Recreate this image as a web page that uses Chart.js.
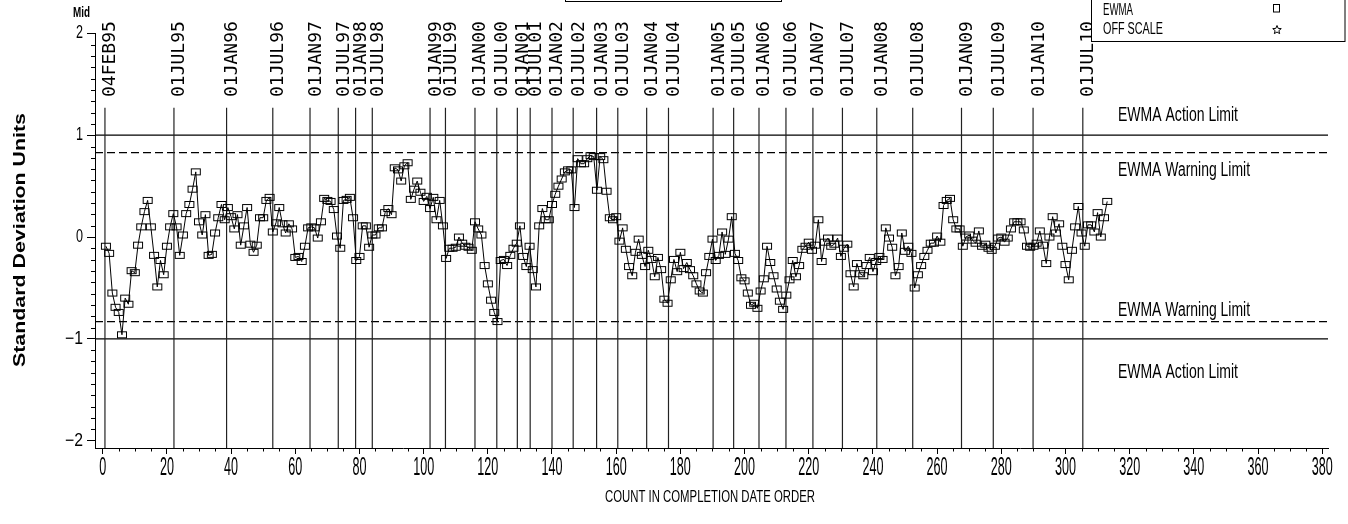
<!DOCTYPE html>
<html>
<head>
    <title>EWMA chart</title>
    <style>
        body { margin: 0; background: #fff; }
    </style>
</head>
<body>
    <canvas id="ewma" width="1348" height="524"></canvas>

    <script src="https://cdn.jsdelivr.net/npm/chart.js@4.4.1/dist/chart.umd.min.js"></script>
    <script>
        // EWMA values in completion order (count 1 .. 313)
        const ewmaValues = [
            -0.09,-0.16,-0.55,-0.69,-0.74,-0.96,-0.60,-0.66,-0.33,-0.35,
            -0.08,0.10,0.25,0.36,0.10,-0.18,-0.49,-0.23,-0.37,-0.09,
            0.10,0.23,0.10,-0.18,0.02,0.23,0.32,0.47,0.64,0.15,
            0.02,0.22,-0.18,-0.17,0.04,0.19,0.32,0.17,0.29,0.20,
            0.08,0.22,-0.08,0.11,0.29,-0.07,-0.15,-0.08,0.19,0.19,
            0.36,0.39,0.05,0.14,0.29,0.13,0.04,0.13,0.08,-0.20,
            -0.19,-0.24,-0.09,0.09,0.10,0.09,-0.01,0.15,0.38,0.36,
            0.35,0.27,0.01,-0.11,0.36,0.37,0.39,0.19,-0.23,-0.19,
            0.11,0.11,-0.10,0.02,0.02,0.09,0.09,0.24,0.28,0.22,
            0.68,0.66,0.55,0.70,0.73,0.37,0.47,0.55,0.44,0.35,
            0.40,0.28,0.39,0.17,0.36,0.11,-0.21,-0.11,-0.11,-0.10,
            0.00,-0.06,-0.09,-0.10,-0.13,0.15,0.08,0.02,-0.28,-0.46,
            -0.62,-0.74,-0.83,-0.23,-0.22,-0.28,-0.18,-0.11,-0.06,0.11,
            -0.19,-0.29,-0.09,-0.32,-0.49,0.11,0.28,0.17,0.17,0.32,
            0.42,0.50,0.57,0.64,0.66,0.66,0.29,0.77,0.72,0.72,
            0.77,0.80,0.79,0.46,0.79,0.76,0.45,0.19,0.17,0.20,
            -0.04,0.09,-0.12,-0.29,-0.38,-0.15,-0.02,-0.18,-0.29,-0.13,
            -0.22,-0.39,-0.20,-0.32,-0.61,-0.65,-0.42,-0.22,-0.34,-0.15,
            -0.31,-0.25,-0.32,-0.38,-0.46,-0.53,-0.55,-0.35,-0.19,-0.02,
            -0.23,-0.18,0.05,-0.17,-0.02,0.20,-0.16,-0.23,-0.40,-0.43,
            -0.55,-0.67,-0.65,-0.70,-0.53,-0.41,-0.09,-0.25,-0.38,-0.51,
            -0.63,-0.71,-0.57,-0.42,-0.23,-0.39,-0.28,-0.12,-0.09,-0.05,
            -0.13,-0.08,0.17,-0.24,-0.05,-0.01,-0.09,-0.07,-0.01,-0.19,
            -0.11,-0.07,-0.36,-0.49,-0.26,-0.36,-0.38,-0.28,-0.20,-0.34,
            -0.24,-0.19,-0.22,0.09,-0.01,-0.10,-0.38,-0.29,0.04,-0.14,
            -0.09,-0.16,-0.50,-0.37,-0.28,-0.19,-0.13,-0.06,-0.06,0.01,
            -0.05,0.31,0.36,0.38,0.17,0.08,0.08,-0.09,0.00,0.02,
            -0.03,-0.06,0.06,-0.09,-0.07,-0.11,-0.13,-0.09,-0.01,0.00,
            -0.05,-0.01,0.08,0.15,0.15,0.15,0.07,-0.09,-0.10,-0.09,
            -0.06,0.06,-0.08,-0.26,0.00,0.20,0.04,0.13,-0.09,-0.27,
            -0.42,-0.13,0.10,0.30,0.04,-0.09,0.12,0.12,0.05,0.24,
            0.00,0.19,0.35
        ];
        const counts = ewmaValues.map((v, i) => i + 1);

        const actionLimit = 1.0;
        const warningLimit = 0.83;

        // date reference lines (position in count units)
        const dateCounts = [0.7, 22.2, 38.6, 53.0, 64.6, 73.4, 78.8, 84.0, 102.0, 106.8,
            116.0, 122.8, 129.2, 133.2, 140.0, 146.6, 153.9, 160.5, 169.5, 176.3,
            190.2, 196.6, 204.5, 212.9, 221.3, 230.5, 241.2, 252.4, 267.6, 277.5,
            289.9, 305.4];
        const dateLabels = ['04FEB95','01JUL95','01JAN96','01JUL96','01JAN97','01JUL97','01JAN98','01JUL98','01JAN99','01JUL99',
            '01JAN00','01JUL00','01JAN01','01JUL01','01JAN02','01JUL02','01JAN03','01JUL03','01JAN04','01JUL04',
            '01JAN05','01JUL05','01JAN06','01JUL06','01JAN07','01JUL07','01JAN08','01JUL08','01JAN09','01JUL09',
            '01JAN10','01JUL10'];

        const xTickValues = [0,20,40,60,80,100,120,140,160,180,200,220,240,260,280,300,320,340,360,380];
        const yTickValues = [-2,-1,0,1,2];

        const X_MIN = -2.4, X_MAX = 381.8;
        const Y_MIN = -2.072, Y_MAX = 2.0;
        const DATE_LINE_TOP = 1.27;

        const FONT = '"Liberation Sans", Arial, sans-serif';

        function putText(ctx, str, x, y, o) {
            ctx.save();
            ctx.translate(x, y);
            if (o.rotate) ctx.rotate(o.rotate);
            ctx.font = o.font;
            ctx.fillStyle = '#000';
            ctx.textBaseline = o.baseline || 'middle';
            ctx.textAlign = 'left';
            const w = ctx.measureText(str).width;
            const sx = o.width ? o.width / w : 1;
            let dx = 0;
            if (o.align === 'center') dx = -w / 2;
            if (o.align === 'right') dx = -w;
            ctx.scale(sx, 1);
            ctx.fillText(str, dx, 0);
            ctx.restore();
        }

        // square marker, slightly wider than tall like the original symbol
        const marker = document.createElement('canvas');
        marker.width = 12;
        marker.height = 9;
        (function () {
            const m = marker.getContext('2d');
            m.strokeStyle = '#000';
            m.lineWidth = 1;
            m.strokeRect(1.5, 1.5, 9, 6);
        })();

        const dateLineData = [];
        dateCounts.forEach(c => {
            dateLineData.push({x: c, y: DATE_LINE_TOP}, {x: c, y: Y_MIN}, {x: c, y: null});
        });

        function hLine(v) {
            return [{x: X_MIN, y: v}, {x: X_MAX, y: v}];
        }

        const decorations = {
            id: 'decorations',
            afterDraw(chart) {
                const ctx = chart.ctx;
                const xs = chart.scales.x, ys = chart.scales.y;
                const area = chart.chartArea;

                // minor ticks
                ctx.save();
                ctx.strokeStyle = '#000';
                ctx.lineWidth = 1;
                ctx.beginPath();
                for (let v = 5; v < 385; v += 5) {
                    if (v % 20 === 0) continue;
                    const px = Math.round(xs.getPixelForValue(v)) + 0.5;
                    ctx.moveTo(px, area.bottom);
                    ctx.lineTo(px, area.bottom + 3.5);
                }
                for (let k = -2; k < 2; k++) {
                    for (let j = 1; j <= 8; j++) {
                        const py = Math.round(ys.getPixelForValue(k + j / 9)) + 0.5;
                        ctx.moveTo(area.left - 4, py);
                        ctx.lineTo(area.left, py);
                    }
                }
                ctx.stroke();
                ctx.restore();

                // tick labels
                xTickValues.forEach(v => {
                    const s = String(v);
                    putText(ctx, s, xs.getPixelForValue(v), 468, {
                        font: '25px ' + FONT, align: 'center', width: 7 * s.length
                    });
                });
                yTickValues.forEach(v => {
                    const s = v < 0 ? '\u2212' + Math.abs(v) : String(v);
                    putText(ctx, s, 83, ys.getPixelForValue(v), {
                        font: '18px ' + FONT, align: 'right', width: v < 0 ? 18 : 7
                    });
                });

                // date labels (rotated)
                ctx.save();
                ctx.font = '18px "DejaVu Sans Mono", monospace';
                ctx.fillStyle = '#000';
                ctx.textBaseline = 'alphabetic';
                dateCounts.forEach((c, i) => {
                    ctx.save();
                    ctx.translate(xs.getPixelForValue(c) + 10.5, 97);
                    ctx.rotate(-Math.PI / 2);
                    ctx.fillText(dateLabels[i], 0, 0);
                    ctx.restore();
                });
                ctx.restore();

                // limit labels
                const lx = 1118;
                putText(ctx, 'EWMA Action Limit', lx, 115, {font: '20px ' + FONT, width: 120});
                putText(ctx, 'EWMA Warning Limit', lx, 170, {font: '20px ' + FONT, width: 132});
                putText(ctx, 'EWMA Warning Limit', lx, 310, {font: '20px ' + FONT, width: 132});
                putText(ctx, 'EWMA Action Limit', lx, 372, {font: '20px ' + FONT, width: 120});

                // axis titles
                putText(ctx, 'Standard Deviation Units', 25, 240, {
                    font: 'bold 17px ' + FONT, rotate: -Math.PI / 2, align: 'center',
                    baseline: 'alphabetic', width: 254
                });
                putText(ctx, 'COUNT IN COMPLETION DATE ORDER', 710, 498, {
                    font: '16px ' + FONT, align: 'center', width: 210
                });
                putText(ctx, 'Mid', 73, 13, {font: 'bold 14px ' + FONT, width: 17});

                // small box at the top centre
                ctx.save();
                ctx.strokeStyle = '#000';
                ctx.lineWidth = 1;
                ctx.strokeRect(565.5, -10, 216, 11.5);
                ctx.restore();

                // legend box
                ctx.save();
                ctx.fillStyle = '#fff';
                ctx.fillRect(1091, -5, 254, 46.5);
                ctx.strokeStyle = '#000';
                ctx.lineWidth = 1;
                ctx.strokeRect(1091.5, -5, 253.5, 46.5);
                ctx.strokeRect(1273.5, 4.5, 6, 7.5);
                // star symbol
                ctx.beginPath();
                const cx = 1277, cy = 30;
                for (let k = 0; k < 10; k++) {
                    const r = k % 2 === 0 ? 4.5 : 2;
                    const a = -Math.PI / 2 + k * Math.PI / 5;
                    const px = cx + r * Math.cos(a), py = cy + r * Math.sin(a);
                    if (k === 0) ctx.moveTo(px, py); else ctx.lineTo(px, py);
                }
                ctx.closePath();
                ctx.stroke();
                ctx.restore();
                putText(ctx, 'EWMA', 1103, 11, {font: '16px ' + FONT, width: 30});
                putText(ctx, 'OFF SCALE', 1103, 30, {font: '16px ' + FONT, width: 60});
            }
        };

        const context = document.getElementById('ewma').getContext('2d');

        const ewmaChart = new Chart(context, {
            type: 'line',
            data: {
                datasets: [
                    {
                        label: 'EWMA',
                        data: ewmaValues.map((v, i) => ({x: counts[i], y: v})),
                        borderColor: '#000',
                        borderWidth: 1,
                        pointStyle: marker,
                        pointRadius: 4,
                        tension: 0
                    },
                    {
                        label: 'dates',
                        data: dateLineData,
                        borderColor: '#222',
                        borderWidth: 1.2,
                        pointRadius: 0,
                        spanGaps: false
                    },
                    {
                        label: 'upper action',
                        data: hLine(actionLimit),
                        borderColor: '#000', borderWidth: 1.3, pointRadius: 0
                    },
                    {
                        label: 'lower action',
                        data: hLine(-actionLimit),
                        borderColor: '#000', borderWidth: 1.3, pointRadius: 0
                    },
                    {
                        label: 'upper warning',
                        data: hLine(warningLimit),
                        borderColor: '#000', borderWidth: 1.3, borderDash: [8, 4], pointRadius: 0
                    },
                    {
                        label: 'lower warning',
                        data: hLine(-warningLimit),
                        borderColor: '#000', borderWidth: 1.3, borderDash: [8, 4], pointRadius: 0
                    }
                ]
            },
            options: {
                responsive: false,
                animation: false,
                devicePixelRatio: 1,
                layout: {padding: {top: 33.4, right: 20, left: 0, bottom: 0}},
                plugins: {
                    legend: {display: false},
                    tooltip: {enabled: false}
                },
                scales: {
                    x: {
                        type: 'linear',
                        min: X_MIN,
                        max: X_MAX,
                        afterBuildTicks: s => { s.ticks = xTickValues.map(v => ({value: v})); },
                        afterFit: s => { s.height = 76; },
                        ticks: {display: false},
                        grid: {drawOnChartArea: false, drawTicks: true, tickLength: 6, color: '#000'},
                        border: {display: true, color: '#000', width: 1}
                    },
                    y: {
                        type: 'linear',
                        min: Y_MIN,
                        max: Y_MAX,
                        afterBuildTicks: s => { s.ticks = yTickValues.map(v => ({value: v})); },
                        afterFit: s => { s.width = 95; },
                        ticks: {display: false},
                        grid: {drawOnChartArea: false, drawTicks: true, tickLength: 8, color: '#000'},
                        border: {display: true, color: '#000', width: 1}
                    }
                }
            },
            plugins: [decorations]
        });
    </script>
</body>
</html>
